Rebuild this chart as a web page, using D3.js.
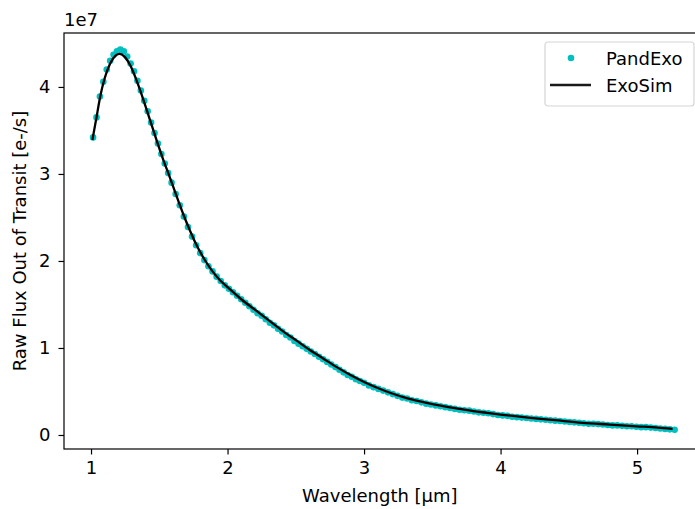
<!DOCTYPE html>
<html>
<head>
<meta charset="utf-8">
<script src="https://cdn.jsdelivr.net/npm/d3@7"></script>
<style>
  body { margin: 0; background: #fff; }
  text { font-family: "DejaVu Sans", sans-serif; fill: #000; }
</style>
</head>
<body>
<svg id="chart" width="695" height="509"></svg>
<script>
// PandExo simulated points (wavelength in um, flux in 1e7 e-/s)
const pandexoWave = [
  1.015, 1.040, 1.065, 1.090, 1.115, 1.140, 1.165, 1.190, 1.215, 1.240,
  1.265, 1.290, 1.315, 1.340, 1.365, 1.390, 1.415, 1.440, 1.465, 1.490,
  1.515, 1.540, 1.565, 1.590, 1.620, 1.650, 1.680, 1.710, 1.740, 1.770,
  1.800, 1.830, 1.860, 1.890, 1.920, 1.950, 1.980, 2.010, 2.040, 2.070,
  2.100, 2.130, 2.160, 2.190, 2.220, 2.250, 2.280, 2.310, 2.340, 2.370,
  2.400, 2.430, 2.460, 2.490, 2.520, 2.550, 2.580, 2.610, 2.640, 2.670,
  2.700, 2.730, 2.760, 2.790, 2.820, 2.850, 2.880, 2.910, 2.940, 2.970,
  3.000, 3.035, 3.070, 3.105, 3.140, 3.175, 3.210, 3.245, 3.280, 3.315,
  3.350, 3.385, 3.420, 3.455, 3.490, 3.525, 3.560, 3.595, 3.630, 3.665,
  3.700, 3.735, 3.770, 3.805, 3.840, 3.875, 3.910, 3.945, 3.980, 4.015,
  4.050, 4.085, 4.120, 4.155, 4.190, 4.225, 4.260, 4.295, 4.330, 4.365,
  4.400, 4.435, 4.470, 4.505, 4.540, 4.575, 4.610, 4.645, 4.680, 4.715,
  4.750, 4.785, 4.820, 4.855, 4.890, 4.925, 4.960, 4.995, 5.030, 5.065,
  5.100, 5.135, 5.170, 5.205, 5.240, 5.275
];
const pandexoFlux = [
  3.42, 3.65, 3.89, 4.06, 4.20, 4.30, 4.37, 4.41, 4.43, 4.41,
  4.35, 4.27, 4.18, 4.07, 3.96, 3.84, 3.72, 3.59, 3.47, 3.35,
  3.23, 3.12, 3.01, 2.90, 2.77, 2.64, 2.51, 2.39, 2.28, 2.18,
  2.09, 2.01, 1.94, 1.88, 1.82, 1.77, 1.72, 1.68, 1.64, 1.60,
  1.56, 1.52, 1.48, 1.44, 1.40, 1.37, 1.33, 1.29, 1.26, 1.22,
  1.19, 1.15, 1.12, 1.08, 1.05, 1.02, 0.99, 0.96, 0.93, 0.90,
  0.87, 0.84, 0.81, 0.78, 0.75, 0.72, 0.69, 0.67, 0.64, 0.62,
  0.60, 0.57, 0.55, 0.53, 0.51, 0.49, 0.47, 0.45, 0.43, 0.42,
  0.40, 0.39, 0.375, 0.36, 0.35, 0.34, 0.33, 0.32, 0.31, 0.30,
  0.29, 0.285, 0.28, 0.27, 0.26, 0.255, 0.25, 0.24, 0.23, 0.225,
  0.22, 0.21, 0.205, 0.20, 0.195, 0.19, 0.185, 0.18, 0.175, 0.17,
  0.165, 0.16, 0.155, 0.15, 0.145, 0.14, 0.135, 0.13, 0.13, 0.125,
  0.12, 0.115, 0.11, 0.11, 0.105, 0.10, 0.10, 0.095, 0.09, 0.09,
  0.085, 0.08, 0.075, 0.07, 0.065, 0.06
];

// ExoSim curve
const exosimWave = [
  1.01, 1.04, 1.07, 1.10, 1.14, 1.18, 1.21, 1.25, 1.29, 1.33,
  1.38, 1.43, 1.48, 1.53, 1.58, 1.63, 1.68, 1.73, 1.78, 1.83,
  1.89, 1.95, 2.00, 2.10, 2.20, 2.30, 2.40, 2.50, 2.60, 2.70,
  2.80, 2.90, 3.00, 3.10, 3.20, 3.30, 3.40, 3.50, 3.60, 3.70,
  3.80, 3.90, 4.00, 4.20, 4.40, 4.60, 4.80, 5.00, 5.15, 5.26
];
const exosimFlux = [
  3.39, 3.65, 3.91, 4.10, 4.27, 4.36, 4.38, 4.34, 4.24, 4.09,
  3.87, 3.63, 3.39, 3.16, 2.95, 2.73, 2.52, 2.33, 2.16, 2.02,
  1.88, 1.77, 1.70, 1.56, 1.44, 1.32, 1.20, 1.09, 0.98, 0.88,
  0.78, 0.69, 0.61, 0.54, 0.48, 0.43, 0.39, 0.355, 0.325, 0.30,
  0.275, 0.255, 0.235, 0.20, 0.17, 0.14, 0.12, 0.10, 0.085, 0.07
];

const xTicks = [1, 2, 3, 4, 5];
const yTicks = [0, 1, 2, 3, 4];

const svg = d3.select('#chart');
const m = { left: 64, right: 703.7, top: 33, bottom: 449 };
const fs = 18;

const x = d3.scaleLinear().domain([0.802, 5.488]).range([m.left, m.right]);
const y = d3.scaleLinear().domain([-0.161, 4.62]).range([m.bottom, m.top]);

const cyan = '#00bfbf';

// data
const pandexo = pandexoWave.map((w, i) => ({ w: w, f: pandexoFlux[i] }));
const exosim = exosimWave.map((w, i) => ({ w: w, f: exosimFlux[i] }));

svg.append('g')
  .selectAll('circle')
  .data(pandexo)
  .enter()
  .append('circle')
  .attr('cx', d => x(d.w))
  .attr('cy', d => y(d.f))
  .attr('r', 3.3)
  .attr('fill', cyan);

const line = d3.line()
  .x(d => x(d.w))
  .y(d => y(d.f))
  .curve(d3.curveMonotoneX);

svg.append('path')
  .datum(exosim)
  .attr('d', line)
  .attr('fill', 'none')
  .attr('stroke', '#000')
  .attr('stroke-width', 2.3);

// axes
const xAxis = svg.append('g')
  .attr('transform', `translate(0,${m.bottom})`)
  .call(d3.axisBottom(x).tickValues(xTicks).tickFormat(d3.format('d')).tickSizeInner(5.5).tickSizeOuter(0).tickPadding(6.5));
const yAxis = svg.append('g')
  .attr('transform', `translate(${m.left},0)`)
  .call(d3.axisLeft(y).tickValues(yTicks).tickFormat(d3.format('d')).tickSizeInner(5.5).tickSizeOuter(0).tickPadding(8));

[xAxis, yAxis].forEach(a => {
  a.select('.domain').remove();
  a.selectAll('line').attr('stroke', '#000').attr('stroke-width', 1.2);
  a.selectAll('text').attr('font-size', fs).attr('font-family', 'DejaVu Sans').attr('fill', '#1a1a1a');
});

// spines
svg.append('rect')
  .attr('x', m.left).attr('y', m.top)
  .attr('width', m.right - m.left).attr('height', m.bottom - m.top)
  .attr('fill', 'none')
  .attr('stroke', '#000')
  .attr('stroke-width', 1.2);

// labels
svg.append('text')
  .attr('x', 64).attr('y', 26)
  .attr('font-size', fs)
  .text('1e7');

svg.append('text')
  .attr('x', (m.left + m.right) / 2 - 4).attr('y', 502)
  .attr('text-anchor', 'middle')
  .attr('font-size', fs)
  .text('Wavelength [µm]');

svg.append('text')
  .attr('transform', `translate(26,${(m.top + m.bottom) / 2}) rotate(-90)`)
  .attr('text-anchor', 'middle')
  .attr('font-size', fs)
  .text('Raw Flux Out of Transit [e-/s]');

// legend
const leg = svg.append('g').attr('transform', 'translate(545,42)');
leg.append('rect')
  .attr('width', 149).attr('height', 64)
  .attr('rx', 3)
  .attr('fill', 'rgba(255,255,255,0.8)')
  .attr('stroke', '#d5d5d5')
  .attr('stroke-width', 1.2);
leg.append('circle')
  .attr('cx', 26).attr('cy', 16)
  .attr('r', 3.3)
  .attr('fill', cyan);
leg.append('line')
  .attr('x1', 5).attr('x2', 46)
  .attr('y1', 43).attr('y2', 43)
  .attr('stroke', '#1a1a1a')
  .attr('stroke-width', 2.3);
leg.append('text')
  .attr('x', 61).attr('y', 22.5)
  .attr('font-size', fs)
  .attr('fill', '#1a1a1a')
  .text('PandExo');
leg.append('text')
  .attr('x', 61).attr('y', 49.5)
  .attr('font-size', fs)
  .attr('fill', '#1a1a1a')
  .text('ExoSim');
</script>
</body>
</html>
